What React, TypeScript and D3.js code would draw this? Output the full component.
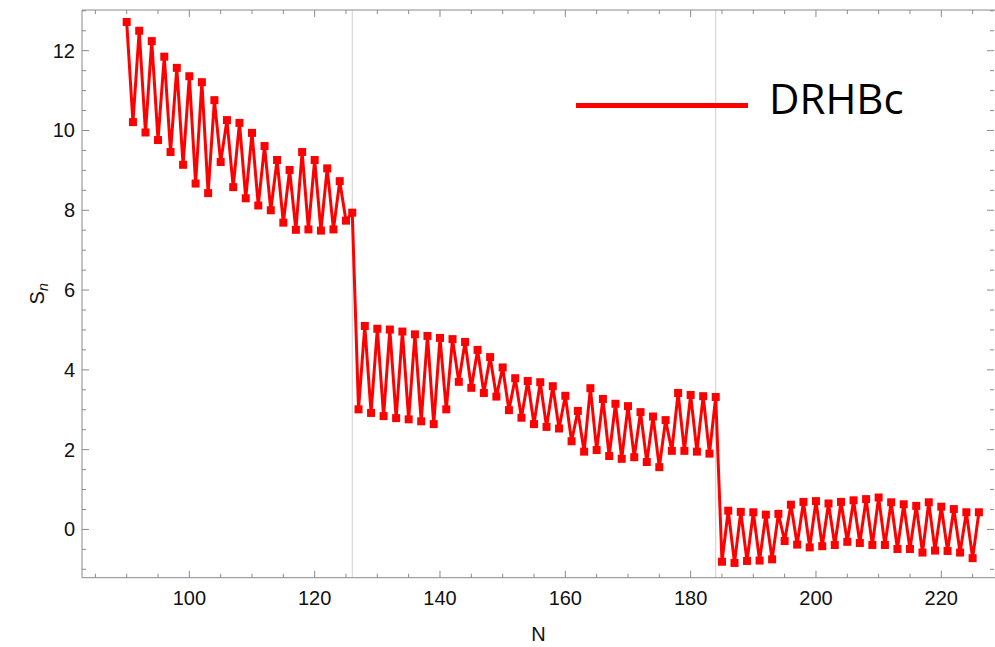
import React from "react";
import * as d3 from "d3";

const N_START = 90;
const snValues: number[] = [
  // N = 90 .. 126
  12.72, 10.21, 12.50, 9.95, 12.24, 9.76, 11.85, 9.46, 11.57, 9.14, 11.36, 8.67, 11.21, 8.43,
  10.76, 9.21, 10.26, 8.58, 10.19, 8.30, 9.94, 8.12, 9.61, 8.00, 9.26, 7.69, 9.01, 7.51,
  9.46, 7.52, 9.26, 7.49, 9.05, 7.52, 8.73, 7.74, 7.94,
  // N = 127 .. 184
  3.01, 5.10, 2.92, 5.03, 2.84, 5.01, 2.79, 4.96, 2.76, 4.89, 2.71, 4.85, 2.64, 4.80,
  3.01, 4.77, 3.70, 4.70, 3.55, 4.50, 3.42, 4.32, 3.33, 4.06, 2.99, 3.79, 2.80, 3.72,
  2.64, 3.69, 2.57, 3.59, 2.53, 3.35, 2.21, 2.97,
  1.95, 3.54, 1.99, 3.27, 1.84, 3.15, 1.77, 3.09, 1.81, 2.94, 1.69, 2.83, 1.56, 2.74,
  1.97, 3.42, 1.97, 3.37, 1.95, 3.34, 1.90, 3.32,
  // N = 185 .. 226
  -0.81, 0.47, -0.84, 0.44, -0.79, 0.43, -0.78, 0.37, -0.75, 0.39, -0.29, 0.62, -0.38, 0.69,
  -0.45, 0.71, -0.42, 0.65, -0.39, 0.69, -0.31, 0.73, -0.34, 0.76, -0.39, 0.80, -0.39, 0.68,
  -0.49, 0.63, -0.49, 0.59, -0.58, 0.68, -0.53, 0.57, -0.54, 0.51, -0.58, 0.43, -0.72, 0.43,
];
const magicNumbers = [126, 184];
const xTickLabels = [100, 120, 140, 160, 180, 200, 220];
const yTickLabels = [0, 2, 4, 6, 8, 10, 12];
const seriesName = "DRHBc";

const W = 995;
const H = 647;
const L = 82, R = 995, T = 10, B = 577.7;

export default function App() {
  const x = d3.scaleLinear().domain([82.87, 228.57]).range([L, R]);
  const y = d3.scaleLinear().domain([-1.21, 13.02]).range([B, T]);
  const data = snValues.map((v, i) => ({ n: N_START + i, v }));
  const line = d3.line<{ n: number; v: number }>().x(d => x(d.n)).y(d => y(d.v));

  const xMinor = d3.range(85, 229, 5);
  const yMinor = d3.range(-1, 13.01, 0.5);
  const axisColor = "#8a8a8a";
  const font = "'Liberation Sans', Arial, sans-serif";

  return (
    <svg width={W} height={H} style={{ position: "absolute", left: 0, top: 0, background: "#fff" }}>
      {/* magic number lines */}
      {magicNumbers.map(m => (
        <line key={m} x1={x(m)} x2={x(m)} y1={T} y2={B} stroke="#cfcfcf" strokeWidth={1} />
      ))}
      {/* frame */}
      <line x1={L} x2={L} y1={T} y2={B} stroke={axisColor} strokeWidth={1} />
      <line x1={L} x2={R} y1={B} y2={B} stroke={axisColor} strokeWidth={1} />
      <line x1={L} x2={R} y1={T} y2={T} stroke={axisColor} strokeWidth={1} />
      {/* x ticks */}
      {xMinor.map(t => {
        const major = t % 20 === 0;
        const len = major ? 7 : 4;
        return (
          <g key={"xt" + t}>
            <line x1={x(t)} x2={x(t)} y1={B} y2={B - len} stroke={axisColor} />
            <line x1={x(t)} x2={x(t)} y1={T} y2={T + len} stroke={axisColor} />
          </g>
        );
      })}
      {/* y ticks */}
      {yMinor.map(t => {
        const major = Math.abs(t % 2) < 1e-9;
        const len = major ? 7 : 4;
        return (
          <g key={"yt" + t}>
            <line x1={L} x2={L + len} y1={y(t)} y2={y(t)} stroke={axisColor} />
            <line x1={R - 1} x2={R - 1 - len} y1={y(t)} y2={y(t)} stroke={axisColor} />
          </g>
        );
      })}
      {xTickLabels.map(t => (
        <text key={"xl" + t} x={x(t)} y={605} textAnchor="middle" fontFamily={font} fontSize={20} fill="#111">
          {t}
        </text>
      ))}
      {yTickLabels.map(t => (
        <text key={"yl" + t} x={75} y={y(t) + 7} textAnchor="end" fontFamily={font} fontSize={20} fill="#111">
          {t}
        </text>
      ))}
      <text x={(L + R) / 2} y={641} textAnchor="middle" fontFamily={font} fontSize={20} fill="#111">N</text>
      <text transform={`translate(44, ${(T + B) / 2}) rotate(-90)`} textAnchor="middle" fontFamily={font} fontSize={20} fill="#111">
        S<tspan fontStyle="italic" fontSize={14} dy={4}>n</tspan>
      </text>
      {/* series */}
      <path d={line(data) || ""} fill="none" stroke="#ff0000" strokeWidth={3} strokeLinejoin="round" />
      {data.map(d => (
        <rect key={d.n} x={x(d.n) - 4} y={y(d.v) - 4} width={8} height={8} fill="#ff0000" />
      ))}
      {/* legend */}
      <line x1={576} x2={748} y1={105.5} y2={105.5} stroke="#ff0000" strokeWidth={5} />
      <text x={769} y={114} fontFamily="'Open Sans', 'Noto Sans', sans-serif" fontSize={42} fill="#000">
        {seriesName}
      </text>
    </svg>
  );
}
